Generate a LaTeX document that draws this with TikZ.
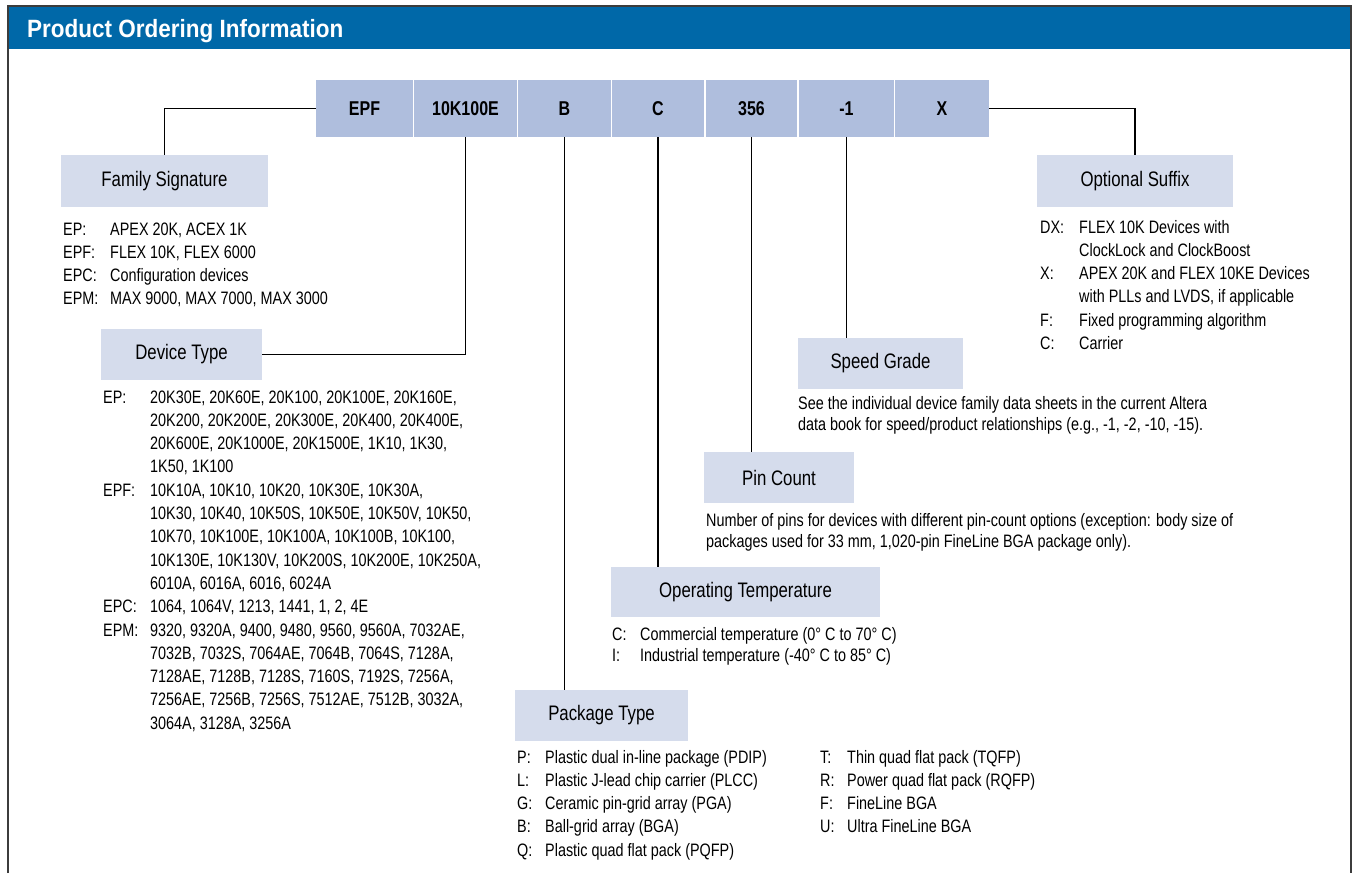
\documentclass[tikz,border=0pt]{standalone}
\usepackage{fontspec}
\setmainfont{Liberation Sans}[FakeStretch=0.8]
\newfontfamily\titlefont{Liberation Sans}[FakeStretch=0.9]
\definecolor{bandblue}{HTML}{0068A8}
\definecolor{codefill}{HTML}{AFBEDD}
\definecolor{labelfill}{HTML}{D5DCEC}
\definecolor{framegray}{HTML}{3C3C3C}
\newcommand{\bodysize}{\fontsize{18}{23.3}\selectfont}
\newcommand{\parasize}{\fontsize{18}{21.5}\selectfont}

\begin{document}
\begin{tikzpicture}[x=1pt, y=-1pt,
    codebox/.style={fill=codefill, inner sep=0pt, minimum height=57pt, font=\fontsize{20}{24}\selectfont\bfseries},
    fieldbox/.style={fill=labelfill, inner sep=0pt, font=\fontsize{21}{25}\selectfont},
    list/.style={anchor=base west, inner sep=0pt, font=\bodysize},
    para/.style={anchor=base west, inner sep=0pt, font=\parasize},
    link/.style={line width=1.2pt}]
\useasboundingbox (0,0) rectangle (1355,873);
\fill[bandblue] (8,6) rectangle (1351,49);
\draw[framegray, line width=2pt] (8,873)--(8,6)--(1351,6)--(1351,873);
\node[anchor=base west, inner sep=0pt, text=white, font=\fontsize{25}{30}\titlefont\bfseries] (title) at (27,37) {Product Ordering Information};

% ordering code
\foreach \nm/\cx/\w/\txt in {epf/364.5/97/EPF, dev/465.5/103/10K100E, pkg/564.5/93/B, temp/658/92/C, pins/751.5/91/356, speed/846.5/95/-1, sfx/942/94/X}
{
    \node[codebox, minimum width=\w pt] (\nm) at (\cx,108.5) {\txt};
}

% fields
\node[fieldbox, minimum width=207pt, minimum height=52pt] (famsig) at (164.5,181) {Family Signature};
\node[fieldbox, minimum width=161pt, minimum height=51pt] (devtype) at (181.5,354.5) {Device Type};
\node[fieldbox, minimum width=173pt, minimum height=51pt] (pkgtype) at (601.5,715.5) {Package Type};
\node[fieldbox, minimum width=269pt, minimum height=50pt] (optemp) at (745.5,592) {Operating Temperature};
\node[fieldbox, minimum width=150pt, minimum height=51pt] (pincount) at (779,477.5) {Pin Count};
\node[fieldbox, minimum width=165pt, minimum height=51pt] (speedgrade) at (880.5,363.5) {Speed Grade};
\node[fieldbox, minimum width=196pt, minimum height=52pt] (suffix) at (1135,181) {Optional Suffix};

\draw[link] (epf.west) -| (famsig.north);
\draw[link] (devtype.east) -| (dev.south);
\draw[link] (pkg.south) -- (pkg.south |- pkgtype.north);
\draw[link] (temp.south) -- (temp.south |- optemp.north);
\draw[link] (pins.south) -- (pins.south |- pincount.north);
\draw[link] (speed.south) -- (speed.south |- speedgrade.north);
\draw[link] (sfx.east) -| (suffix.north);

% descriptions
\node[list] (famlist) at (63,235) {\begin{tabular}[t]{@{}p{47pt}@{}l@{}}
EP: & APEX 20K, ACEX 1K\\
EPF: & FLEX 10K, FLEX 6000\\
EPC: & Configuration devices\\
EPM: & MAX 9000, MAX 7000, MAX 3000
\end{tabular}};

\node[list] (devlist) at (103,403) {\begin{tabular}[t]{@{}p{47pt}@{}l@{}}
EP: & 20K30E, 20K60E, 20K100, 20K100E, 20K160E,\\
 & 20K200, 20K200E, 20K300E, 20K400, 20K400E,\\
 & 20K600E, 20K1000E, 20K1500E, 1K10, 1K30,\\
 & 1K50, 1K100\\
EPF: & 10K10A, 10K10, 10K20, 10K30E, 10K30A,\\
 & 10K30, 10K40, 10K50S, 10K50E, 10K50V, 10K50,\\
 & 10K70, 10K100E, 10K100A, 10K100B, 10K100,\\
 & 10K130E, 10K130V, 10K200S, 10K200E, 10K250A,\\
 & 6010A, 6016A, 6016, 6024A\\
EPC: & 1064, 1064V, 1213, 1441, 1, 2, 4E\\
EPM: & 9320, 9320A, 9400, 9480, 9560, 9560A, 7032AE,\\
 & 7032B, 7032S, 7064AE, 7064B, 7064S, 7128A,\\
 & 7128AE, 7128B, 7128S, 7160S, 7192S, 7256A,\\
 & 7256AE, 7256B, 7256S, 7512AE, 7512B, 3032A,\\
 & 3064A, 3128A, 3256A
\end{tabular}};

\node[list] (pkglistA) at (517,763) {\begin{tabular}[t]{@{}p{28pt}@{}l@{}}
P: & Plastic dual in-line package (PDIP)\\
L: & Plastic J-lead chip carrier (PLCC)\\
G: & Ceramic pin-grid array (PGA)\\
B: & Ball-grid array (BGA)\\
Q: & Plastic quad flat pack (PQFP)
\end{tabular}};
\node[list] (pkglistB) at (820,763) {\begin{tabular}[t]{@{}p{27pt}@{}l@{}}
T: & Thin quad flat pack (TQFP)\\
R: & Power quad flat pack (RQFP)\\
F: & FineLine BGA\\
U: & Ultra FineLine BGA
\end{tabular}};

\node[para] (templist) at (612,640) {\begin{tabular}[t]{@{}p{28pt}@{}l@{}}
C: & Commercial temperature (0\textdegree{} C to 70\textdegree{} C)\\
I: & Industrial temperature (-40\textdegree{} C to 85\textdegree{} C)
\end{tabular}};

\node[para] (pintext) at (706,526) {\begin{tabular}[t]{@{}l@{}}
Number of pins for devices with different pin-count options (exception: body size of\\
packages used for 33 mm, 1,020-pin FineLine BGA package only).
\end{tabular}};

\node[para] (speedtext) at (798,409) {\begin{tabular}[t]{@{}l@{}}
See the individual device family data sheets in the current Altera\\
data book for speed/product relationships (e.g., -1, -2, -10, -15).
\end{tabular}};

\node[list] (sfxlist) at (1040,233) {\begin{tabular}[t]{@{}p{39pt}@{}l@{}}
DX: & FLEX 10K Devices with\\
 & ClockLock and ClockBoost\\
X: & APEX 20K and FLEX 10KE Devices\\
 & with PLLs and LVDS, if applicable\\
F: & Fixed programming algorithm\\
C: & Carrier
\end{tabular}};

\end{tikzpicture}
\end{document}
